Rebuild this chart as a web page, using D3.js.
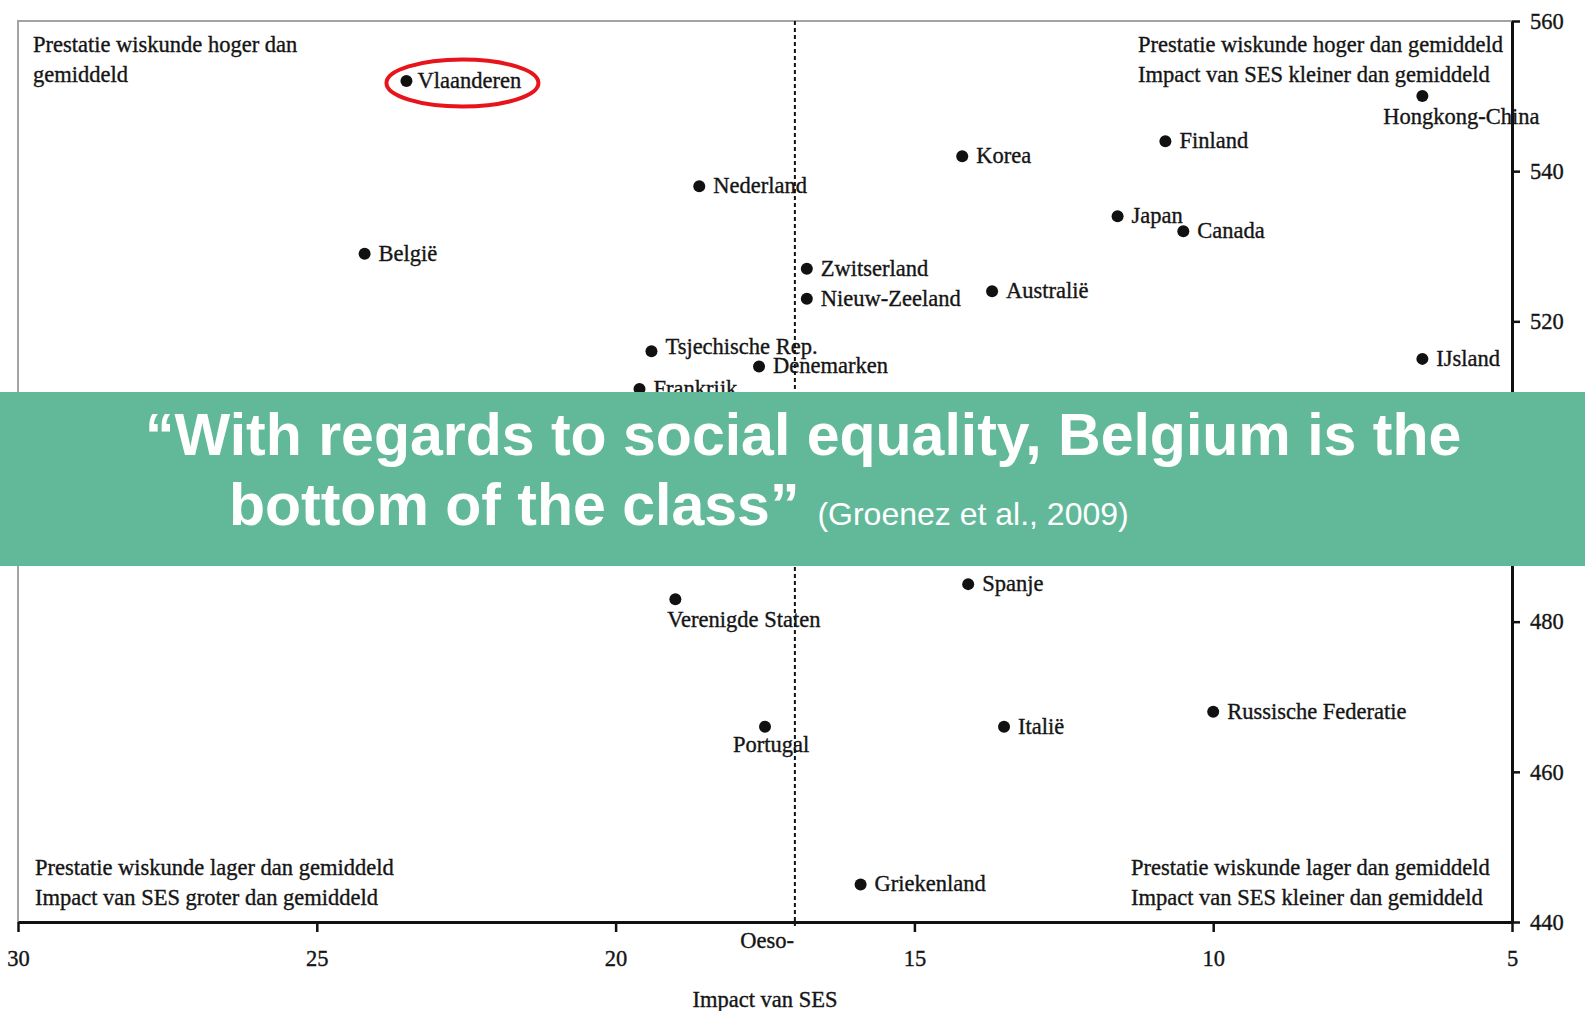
<!DOCTYPE html>
<html>
<head>
<meta charset="utf-8">
<script src="https://cdn.jsdelivr.net/npm/d3@7"></script>
<style>
  html, body { margin: 0; padding: 0; background: #fff; }
  svg { display: block; }
  .chart text { font-family: "Liberation Serif", "Times New Roman", serif; fill: #151515; stroke: #151515; stroke-width: 0.35px; }
  .axis path, .axis line { stroke: #111; }
  .band text { font-family: "Liberation Sans", Arial, sans-serif; fill: #fff; }
</style>
</head>
<body>
<div id="content"></div>
<script>
// countries with impact of SES (x) and maths score (y)
var countries = ["Vlaanderen", "België", "Nederland", "Tsjechische Rep.", "Denemarken", "Frankrijk",
    "Korea", "Finland", "Hongkong-China", "Japan", "Canada", "Zwitserland", "Nieuw-Zeeland",
    "Australië", "IJsland", "Verenigde Staten", "Portugal", "Spanje", "Italië",
    "Russische Federatie", "Griekenland"];
var sesImpact = [23.5, 24.2, 18.6, 19.4, 17.6, 19.6,
    14.2, 10.8, 6.5, 11.6, 10.5, 16.8, 16.8,
    13.7, 6.5, 19.0, 17.5, 14.1, 13.5,
    10.0, 15.9];
var mathScore = [552, 529, 538, 516, 514, 511,
    542, 544, 550, 534, 532, 527, 523,
    524, 515, 483, 466, 485, 466,
    468, 445];
var xTicks = [30, 25, 20, 15, 10, 5];
var yTicks = [440, 460, 480, 500, 520, 540, 560];
var oecdMean = 17;

// labels that sit under the dot instead of next to it
var belowLabels = { "Hongkong-China": -39, "Verenigde Staten": -8, "Portugal": -32 };

var width = 1585, height = 1011;
var plot = { left: 18, right: 1512, top: 21, bottom: 922 };
var fs = 22.5;

var svg = d3.select('#content').append('svg')
    .attr('width', width)
    .attr('height', height);

var chart = svg.append('g').attr('class', 'chart');

var x = d3.scaleLinear().domain([30, 5]).range([plot.left, plot.right]);
var y = d3.scaleLinear().domain([440, 560]).range([plot.bottom, plot.top]);

// gray frame top and left
chart.append('path')
    .attr('d', 'M' + plot.left + ',' + plot.bottom + 'V' + plot.top + 'H' + plot.right)
    .attr('fill', 'none')
    .attr('stroke', '#a3a3a3')
    .attr('stroke-width', 2);

var xAxis = d3.axisBottom(x).tickValues(xTicks).tickSizeInner(10).tickSizeOuter(0).tickPadding(18);
var yAxis = d3.axisRight(y).tickValues(yTicks).tickSizeInner(8).tickSizeOuter(0).tickPadding(10);

chart.append('g')
    .attr('class', 'x axis')
    .attr('transform', 'translate(0,' + plot.bottom + ')')
    .call(xAxis)
    .call(g => g.select('.domain').attr('stroke-width', 3))
    .call(g => g.selectAll('.tick line').attr('stroke-width', 2.5))
    .selectAll('text')
    .attr('font-size', fs)
    .attr('fill', '#151515');

chart.append('g')
    .attr('class', 'y axis')
    .attr('transform', 'translate(' + plot.right + ',0)')
    .call(yAxis)
    .call(g => g.select('.domain').attr('stroke-width', 3))
    .call(g => g.selectAll('.tick line').attr('stroke-width', 2.5))
    .selectAll('text')
    .attr('font-size', fs)
    .attr('fill', '#151515');

// oecd average
chart.append('line')
    .attr('x1', x(oecdMean)).attr('x2', x(oecdMean))
    .attr('y1', plot.top).attr('y2', plot.bottom + 4)
    .attr('stroke', '#111')
    .attr('stroke-width', 2)
    .attr('stroke-dasharray', '4,3');

chart.append('text')
    .attr('x', x(oecdMean) - 1)
    .attr('y', 948)
    .attr('text-anchor', 'end')
    .attr('font-size', fs)
    .text('Oeso-');

chart.append('text')
    .attr('x', 765)
    .attr('y', 1007)
    .attr('text-anchor', 'middle')
    .attr('font-size', fs)
    .text('Impact van SES');

// quadrant notes
var notes = [
    { x: 33, y: 52, lines: ['Prestatie wiskunde hoger dan', 'gemiddeld'] },
    { x: 1138, y: 52, lines: ['Prestatie wiskunde hoger dan gemiddeld', 'Impact van SES kleiner dan gemiddeld'] },
    { x: 35, y: 875, lines: ['Prestatie wiskunde lager dan gemiddeld', 'Impact van SES groter dan gemiddeld'] },
    { x: 1131, y: 875, lines: ['Prestatie wiskunde lager dan gemiddeld', 'Impact van SES kleiner dan gemiddeld'] }
];
notes.forEach(function (n) {
    var t = chart.append('text')
        .attr('x', n.x).attr('y', n.y)
        .attr('font-size', fs);
    n.lines.forEach(function (l, i) {
        t.append('tspan').attr('x', n.x).attr('dy', i ? 30 : 0).text(l);
    });
});

var data = countries.map(function (c, i) {
    return { name: c, ses: sesImpact[i], score: mathScore[i] };
});

chart.selectAll('circle.dot')
    .data(data)
    .enter().append('circle')
    .attr('class', 'dot')
    .attr('cx', d => x(d.ses))
    .attr('cy', d => y(d.score))
    .attr('r', 6)
    .attr('fill', '#111');

chart.selectAll('text.lbl')
    .data(data)
    .enter().append('text')
    .attr('class', 'lbl')
    .attr('font-size', fs)
    .attr('x', function (d) {
        if (d.name in belowLabels) return x(d.ses) + belowLabels[d.name];
        return x(d.ses) + (d.name === 'Vlaanderen' ? 11 : 14);
    })
    .attr('y', function (d) {
        if (d.name in belowLabels) return y(d.score) + (d.name === 'Portugal' ? 25 : 28);
        return y(d.score) + (d.name === 'Tsjechische Rep.' ? 3 : 7);
    })
    .text(d => d.name);

// red highlight round Vlaanderen
var vl = data[0];
chart.append('ellipse')
    .attr('cx', x(vl.ses) + 56)
    .attr('cy', y(vl.score) + 2)
    .attr('rx', 76)
    .attr('ry', 23.5)
    .attr('fill', 'none')
    .attr('stroke', '#e8141b')
    .attr('stroke-width', 4);

// quote band over the chart
var band = svg.append('g').attr('class', 'band');
band.append('rect')
    .attr('x', 0).attr('y', 392)
    .attr('width', width).attr('height', 174)
    .attr('fill', '#62b99a');

band.append('text')
    .attr('x', 145).attr('y', 455)
    .attr('font-size', 59)
    .attr('font-weight', 'bold')
    .text('\u201CWith regards to social equality, Belgium is the');

var l2 = band.append('text')
    .attr('x', 229).attr('y', 525)
    .attr('font-size', 59)
    .attr('font-weight', 'bold');
l2.append('tspan').text('bottom of the class\u201D');
l2.append('tspan')
    .attr('font-size', 32)
    .attr('font-weight', 'normal')
    .attr('dx', 18)
    .text('(Groenez et al., 2009)');
</script>
</body>
</html>
